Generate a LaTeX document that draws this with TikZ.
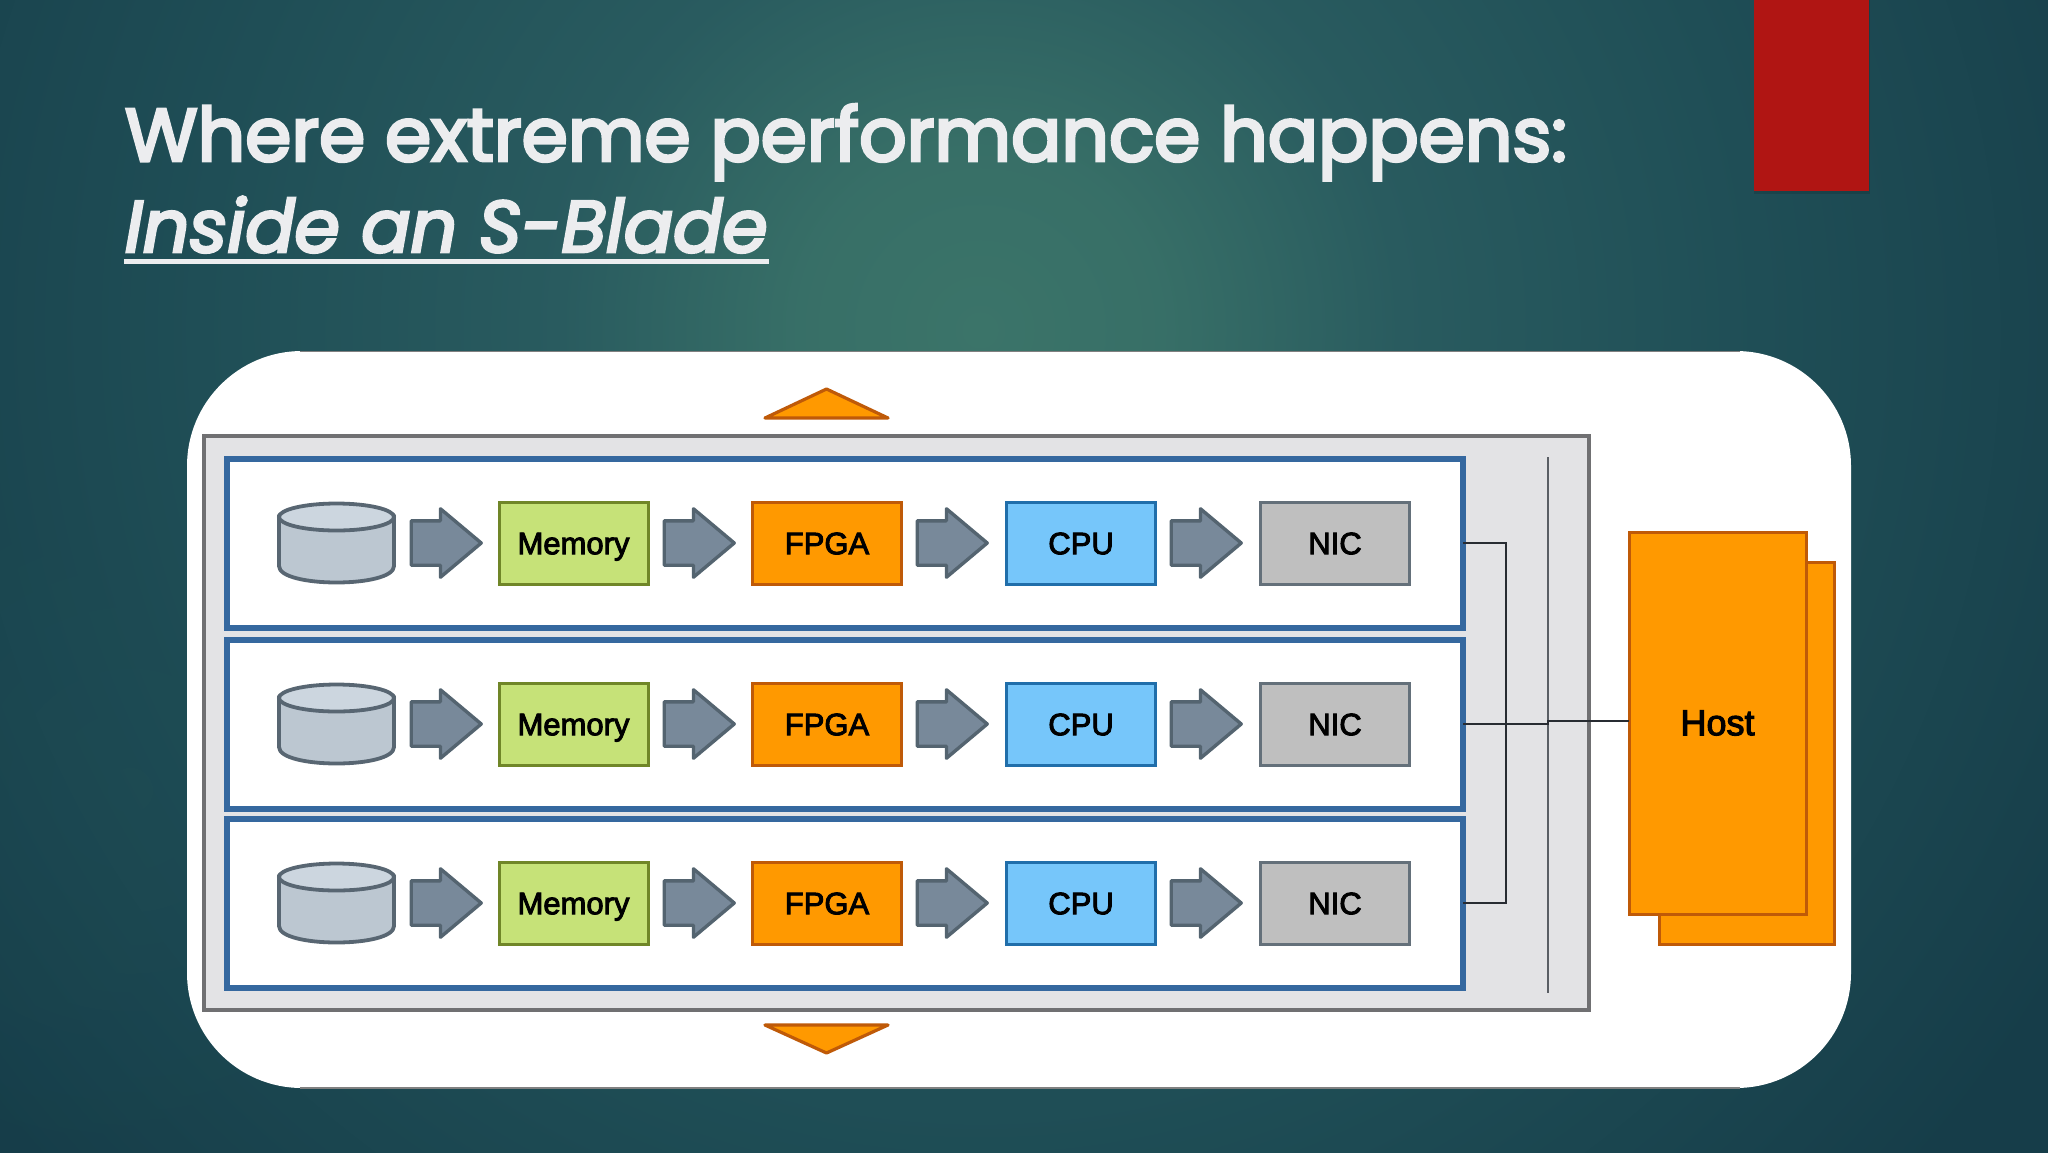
\documentclass[tikz,border=0pt]{standalone}
\usepackage{fontspec}
\usetikzlibrary{shapes.arrows,fadings}
\setmainfont{Liberation Sans}
\newfontfamily\boxfont{Liberation Sans}[FakeBold=3]
\newfontfamily\titlefont{Poppins}[FakeBold=4,ItalicFeatures={FakeBold=4}]
\definecolor{bgbase}{HTML}{163D49}
\definecolor{bglight}{HTML}{3B7469}
\definecolor{bgmid}{HTML}{1F4E56}
\definecolor{bgmid2}{HTML}{295B5F}
\definecolor{titlecol}{HTML}{ECEDEF}
\definecolor{bladeblue}{HTML}{35689F}
\definecolor{orangefill}{HTML}{FF9900}
\definecolor{orangeline}{HTML}{BF5A08}
\pgfdeclareradialshading{bgshade}{\pgfpoint{0bp}{0bp}}{
  color(0bp)=(bglight); color(3bp)=(bglight!80!bgmid2); color(7bp)=(bgmid2); color(13bp)=(bgmid); color(21bp)=(bgbase); color(50bp)=(bgbase)}
\tikzfading[name=glowfade, inner color=transparent!65, outer color=transparent!100]
\tikzset{
  x=0.5pt, y=-0.5pt,
  unit/.style={rectangle, outer sep=0pt, inner sep=0pt, minimum width=74.5pt, minimum height=41pt, line width=1.5pt, font=\boxfont\fontsize{15.5}{18}\selectfont, text=black, text height=11.2pt, text depth=0pt},
  memorybox/.style={unit, fill={rgb,255:red,198;green,226;blue,120}, draw={rgb,255:red,112;green,134;blue,40}},
  fpgabox/.style={unit, fill=orangefill, draw=orangeline},
  cpubox/.style={unit, fill={rgb,255:red,118;green,198;blue,250}, draw={rgb,255:red,32;green,110;blue,170}},
  nicbox/.style={unit, fill={rgb,255:red,191;green,191;blue,191}, draw={rgb,255:red,100;green,112;blue,122}},
  flow/.style={single arrow, outer sep=0pt, inner sep=0pt, minimum height=35pt, single arrow head extend=6pt, single arrow tip angle=80, fill={rgb,255:red,120;green,137;blue,154}, draw={rgb,255:red,84;green,100;blue,112}, line width=1.7pt, line join=round},
  bladebox/.style={rectangle, outer sep=0pt, inner sep=0pt, minimum width=618pt, minimum height=84.5pt, fill=white, draw=bladeblue, line width=3pt},
  disk/.style={fill={rgb,255:red,188;green,199;blue,209}, draw={rgb,255:red,88;green,102;blue,114}, line width=1.9pt, line join=round},
  disktop/.style={fill={rgb,255:red,204;green,214;blue,223}, draw={rgb,255:red,88;green,102;blue,114}, line width=1.9pt},
  wire/.style={draw={rgb,255:red,40;green,44;blue,50}, line width=0.8pt},
  buswire/.style={draw={rgb,255:red,90;green,94;blue,100}, line width=0.9pt},
  hostbox/.style={rectangle, outer sep=0pt, inner sep=0pt, fill=orangefill, draw=orangeline, line width=1.5pt},
  tri/.style={fill=orangefill, draw=orangeline, line width=1.6pt, line join=round},
  titletext/.style={anchor=base west, inner sep=0pt, outer sep=0pt, text=titlecol}
}
\begin{document}
\begin{tikzpicture}
\useasboundingbox (0,0) rectangle (2048,1152);
% background
\begin{scope}
\clip (0,0) rectangle (2048,1152);
\fill[bgbase] (0,0) rectangle (2048,1152);
\shade[shading=bgshade] (980,330) circle (1500);
\fill[bgmid,path fading=glowfade] (130,790) circle (420);
\fill[bgmid,path fading=glowfade] (1000,1150) circle (420);
\end{scope}
% red tab
\fill[black,opacity=.12] (1754,0) rectangle (1870,194);
\fill[fill={rgb,255:red,176;green,21;blue,19}] (1754,0) rectangle (1869,191);
% title
\node[titletext] (title1) at (125,161) {\titlefont\fontsize{37.2}{44}\selectfont Where extreme performance happens:};
\node[titletext] (title2) at (125,252) {\titlefont\itshape\fontsize{36.4}{44}\selectfont Inside an S-Blade};
\fill[titlecol] (124,259) rectangle (769,264);
% panel
\fill[white,rounded corners=57.5pt] (187,351) rectangle (1851,1088);
\draw[gray,line width=0.8pt] (300,351.5) -- (1740,351.5);
\draw[gray,line width=0.8pt] (300,1088) -- (1740,1088);
% triangles
\draw[tri] (765,418) -- (826.5,389) -- (888,418) -- cycle;
\draw[tri] (765,1025) -- (826.5,1053) -- (888,1025) -- cycle;
% enclosure
\node[rectangle,outer sep=0pt,inner sep=0pt,minimum width=692.5pt,minimum height=287pt,fill={rgb,255:red,227;green,227;blue,229},draw={rgb,255:red,112;green,112;blue,114},line width=1.8pt] (enclosure) at (896.5,723) {};
% host
\node[hostbox,minimum width=87.5pt,minimum height=191pt] (hostback) at (1746.5,753) {};
\node[hostbox,minimum width=88.5pt,minimum height=191pt,font=\boxfont\fontsize{18}{20}\selectfont,text=black] (host) at (1717.5,723) {Host};
% rows
\foreach \r/\yy in {1/543,2/724,3/903}{
  \node[bladebox] (blade\r) at (845,\yy) {};
  \path[disk] (279,\yy-28) -- (279,\yy+23) .. controls (279,\yy+45) and (394,\yy+45) .. (394,\yy+23) -- (394,\yy-28) -- cycle;
  \draw[disktop] (336.5,\yy-26) ellipse [x radius=57.5, y radius=13.5];
  \node[flow] (a\r) at (433,\yy) {\rule{0pt}{20.5pt}};
  \node[memorybox] (mem\r) at (573.5,\yy) {Memory};
  \node[flow] (b\r) at (686,\yy) {\rule{0pt}{20.5pt}};
  \node[fpgabox] (fpga\r) at (827,\yy) {FPGA};
  \node[flow] (c\r) at (939,\yy) {\rule{0pt}{20.5pt}};
  \node[cpubox] (cpu\r) at (1081,\yy) {CPU};
  \node[flow] (d\r) at (1193,\yy) {\rule{0pt}{20.5pt}};
  \node[nicbox] (nic\r) at (1335,\yy) {NIC};
}
% wiring
\coordinate (riser) at (1506,724);
\coordinate (bustop) at (1548,457);
\coordinate (busbot) at (1548,993);
\coordinate (busin) at (1548,724);
\coordinate (busout) at (1548,721);
\draw[buswire] (bustop) -- (busbot);
\draw[wire] (blade1.east) -| (riser) |- (blade3.east);
\draw[wire] (blade2.east) -- (busin) -- (busout) -- (busout -| host.west);
\end{tikzpicture}
\end{document}
